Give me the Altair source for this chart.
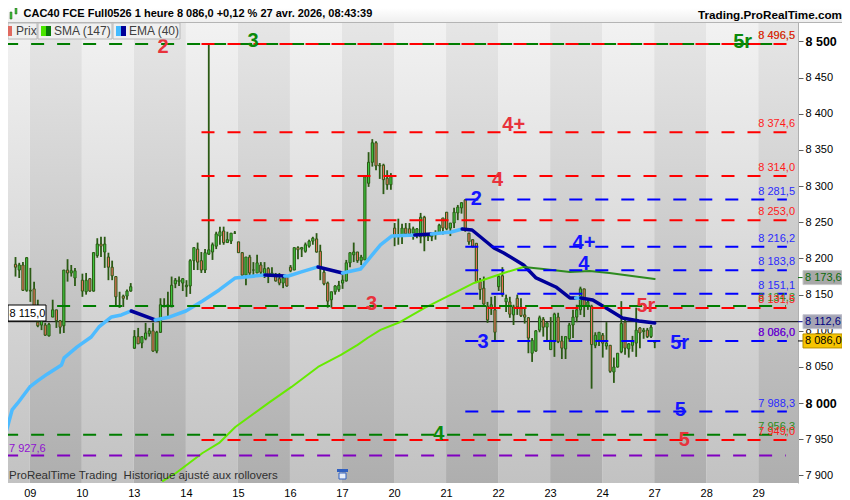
import altair as alt
import pandas as pd

FONT = "Liberation Sans"

# ---- time axis: trading-day number, tick labels
day_labels = ["09", "10", "13", "14", "15", "16", "17", "20", "21", "22", "23", "24", "27", "28", "29"]
band_edges = [-0.5, 0, 1, 2, 3, 4, 5, 6, 7, 8, 9, 10, 11, 12, 13, 14, 15]
price_ticks = [7900, 7950, 8000, 8050, 8100, 8150, 8200, 8250, 8300, 8350, 8400, 8450, 8500]

# ---- hourly candles
slot = [2, 3, 4, 5, 6, 7, 8, 9, 10, 11, 12, 13, 14, 15, 16, 17, 18, 20, 21, 22, 23, 24, 25, 26, 27, 28, 29, 30, 31, 32, 33,
        34, 35, 36, 37, 38, 39, 40, 41, 42, 43, 44, 45, 46, 47, 48, 49, 50, 51, 52, 53, 54, 55, 56, 57, 58, 59, 60, 61, 62, 63, 64, 65, 66, 67, 68,
        69, 70, 71, 72, 73, 74, 75, 76, 77, 78, 79, 80, 81, 82, 83, 84, 85, 86, 87, 88, 89, 90, 91, 92, 93, 94, 95, 96, 97, 98, 99, 100, 101, 102, 103,
        104, 105, 106, 107, 108, 109, 110, 111, 112, 113, 114, 115, 116, 117, 118, 119, 120, 121, 122, 123, 124, 125, 126, 127, 128, 129, 130, 131, 132, 133, 134, 135, 136, 137, 138, 139,
        140, 141, 142, 143, 144, 145, 146, 147, 148, 149, 150, 151, 152, 153, 154, 155, 156, 157, 158, 159, 160, 161, 162, 163, 164, 165, 166, 167, 168, 169, 170, 171, 172, 173, 174]
high = [8202, 8194, 8195, 8202, 8187, 8168, 8143, 8119, 8111, 8111, 8143, 8129, 8115, 8184, 8199, 8191, 8187, 8179, 8180, 8173, 8209, 8228, 8230, 8230, 8208, 8197, 8175, 8154, 8150, 8157, 8166,
        8101, 8104, 8092, 8111, 8104, 8111, 8100, 8145, 8145, 8154, 8175, 8173, 8175, 8173, 8170, 8199, 8215, 8222, 8209, 8213, 8496, 8222, 8237, 8244, 8244, 8237, 8235, 8238, 8223, 8209, 8202, 8205, 8195, 8205, 8195,
        8195, 8188, 8188, 8180, 8180, 8177, 8177, 8191, 8215, 8217, 8216, 8222, 8226, 8230, 8235, 8219, 8188, 8168, 8154, 8163, 8169, 8177, 8198, 8208, 8222, 8209, 8205, 8313, 8347, 8365, 8362, 8332, 8331, 8322, 8318,
        8249, 8255, 8248, 8249, 8249, 8244, 8242, 8263, 8259, 8235, 8235, 8239, 8248, 8256, 8264, 8249, 8270, 8274, 8278, 8282, 8235, 8226, 8221, 8173, 8175, 8140, 8147, 8148, 8177, 8188, 8150, 8147, 8136, 8150, 8145, 8133,
        8119, 8090, 8101, 8121, 8119, 8112, 8119, 8125, 8125, 8093, 8092, 8111, 8129, 8136, 8161, 8158, 8144, 8136, 8098, 8098, 8097, 8112, 8080, 8063, 8069, 8141, 8115, 8083, 8093, 8132, 8105, 8104, 8104, 8108, 8087]
low = [8175, 8173, 8155, 8154, 8140, 8119, 8105, 8101, 8093, 8092, 8119, 8104, 8096, 8097, 8168, 8175, 8162, 8147, 8150, 8154, 8154, 8201, 8202, 8187, 8170, 8170, 8133, 8132, 8133, 8143, 8154,
       8075, 8082, 8076, 8087, 8092, 8071, 8069, 8097, 8133, 8119, 8133, 8159, 8162, 8155, 8147, 8151, 8184, 8184, 8180, 8180, 8205, 8198, 8213, 8219, 8219, 8222, 8220, 8234, 8208, 8175, 8163, 8177, 8175, 8180, 8177,
       8173, 8166, 8175, 8168, 8163, 8159, 8161, 8181, 8184, 8199, 8202, 8208, 8215, 8219, 8208, 8170, 8163, 8132, 8132, 8150, 8154, 8158, 8168, 8188, 8195, 8194, 8191, 8198, 8299, 8327, 8322, 8310, 8289, 8295, 8295,
       8217, 8219, 8220, 8230, 8230, 8226, 8228, 8221, 8210, 8224, 8224, 8226, 8234, 8233, 8239, 8231, 8242, 8253, 8262, 8237, 8219, 8215, 8166, 8143, 8136, 8111, 8122, 8085, 8155, 8147, 8126, 8118, 8108, 8122, 8119, 8110,
       8069, 8057, 8071, 8098, 8092, 8086, 8074, 8064, 8083, 8061, 8061, 8085, 8090, 8112, 8122, 8119, 8129, 8020, 8076, 8079, 8063, 8074, 8042, 8028, 8049, 8069, 8067, 8063, 8071, 8064, 8076, 8089, 8090, 8090, 8076]
open_ = [8192, 8184, 8191, 8156, 8156, 8158, 8112, 8108, 8108, 8093, 8119, 8129, 8114, 8107, 8184, 8180, 8173, 8170, 8154, 8172, 8155, 8204, 8220, 8209, 8202, 8188, 8175, 8134, 8148, 8148, 8155,
         8076, 8092, 8083, 8089, 8096, 8100, 8072, 8098, 8133, 8133, 8133, 8165, 8168, 8166, 8161, 8162, 8197, 8213, 8197, 8184, 8206, 8209, 8217, 8231, 8238, 8222, 8224, 8235, 8223, 8208, 8177, 8202, 8184, 8180, 8191,
         8177, 8186, 8177, 8175, 8172, 8166, 8175, 8188, 8184, 8215, 8213, 8210, 8217, 8224, 8227, 8210, 8181, 8166, 8143, 8154, 8157, 8166, 8169, 8194, 8205, 8209, 8197, 8198, 8304, 8333, 8360, 8329, 8329, 8311, 8302,
         8242, 8230, 8232, 8242, 8241, 8235, 8234, 8230, 8257, 8230, 8230, 8233, 8235, 8256, 8264, 8242, 8249, 8263, 8270, 8281, 8235, 8226, 8221, 8168, 8159, 8134, 8132, 8129, 8161, 8176, 8140, 8140, 8122, 8145, 8133, 8122,
         8118, 8069, 8072, 8101, 8116, 8105, 8074, 8085, 8119, 8086, 8075, 8089, 8108, 8119, 8129, 8158, 8134, 8134, 8080, 8087, 8094, 8079, 8080, 8043, 8050, 8071, 8112, 8075, 8080, 8083, 8104, 8099, 8101, 8092, 8084]
close = [8188, 8191, 8156, 8201, 8155, 8121, 8107, 8115, 8094, 8109, 8129, 8114, 8105, 8184, 8180, 8183, 8183, 8155, 8170, 8155, 8208, 8220, 8217, 8220, 8188, 8176, 8147, 8133, 8145, 8155, 8161,
         8092, 8082, 8092, 8097, 8100, 8072, 8098, 8136, 8134, 8136, 8163, 8170, 8170, 8172, 8163, 8197, 8215, 8195, 8184, 8208, 8212, 8219, 8234, 8237, 8222, 8226, 8235, 8235, 8208, 8177, 8202, 8180, 8184, 8194, 8181,
         8186, 8177, 8180, 8169, 8166, 8173, 8162, 8183, 8215, 8212, 8215, 8219, 8224, 8228, 8209, 8188, 8165, 8141, 8154, 8162, 8163, 8170, 8194, 8208, 8209, 8197, 8202, 8313, 8333, 8360, 8328, 8328, 8309, 8302, 8313,
         8230, 8231, 8242, 8234, 8234, 8241, 8241, 8257, 8230, 8234, 8233, 8235, 8246, 8242, 8241, 8249, 8264, 8271, 8277, 8239, 8223, 8217, 8168, 8157, 8137, 8115, 8136, 8098, 8175, 8150, 8145, 8123, 8133, 8133, 8121, 8119,
         8090, 8087, 8100, 8118, 8105, 8111, 8087, 8123, 8085, 8076, 8092, 8108, 8119, 8129, 8158, 8134, 8140, 8081, 8094, 8098, 8083, 8083, 8044, 8050, 8069, 8110, 8076, 8082, 8085, 8101, 8097, 8101, 8092, 8105, 8086]

# ---- EMA (40), piece by piece: the falling stretches are navy
ema_t = [[-0.46, -0.34, -0.23, 0, 0.15, 0.34, 0.61, 0.66, 0.91, 1.18, 1.33, 1.57, 1.76, 1.95],
         [1.95, 2.41],
         [2.41, 2.69, 3.0, 3.32, 3.64, 3.95, 4.52],
         [4.52, 4.9],
         [4.9, 4.97, 5.22, 5.54],
         [5.54, 6.01],
         [6.01, 6.36, 6.58, 6.74, 6.96, 7.4],
         [7.4, 7.72],
         [7.72, 8.1, 8.31],
         [8.31, 8.5, 8.92, 9.11, 9.49, 9.73, 10.11, 10.38, 10.49],
         [10.49, 10.59],
         [10.59, 10.82, 11.14, 11.39, 11.71, 12.01]]
ema_v = [[7958.8, 7990.6, 8000.3, 8022.4, 8030.7, 8040.4, 8052.8, 8062.5, 8077.7, 8091.5, 8105.3, 8119.2, 8121.9, 8127.4],
         [8127.4, 8115.0],
         [8115.0, 8119.2, 8127.4, 8141.3, 8156.5, 8173.1, 8177.2],
         [8177.2, 8175.8],
         [8175.8, 8175.8, 8181.4, 8188.3],
         [8188.3, 8180.0],
         [8180.0, 8185.5, 8204.9, 8218.7, 8231.1, 8232.5],
         [8232.5, 8233.9],
         [8233.9, 8236.7, 8240.8],
         [8240.8, 8239.4, 8214.5, 8207.6, 8191.0, 8173.1, 8160.6, 8145.4, 8145.4],
         [8145.4, 8145.4],
         [8145.4, 8142.7, 8128.8, 8117.8, 8113.6, 8110.9]]
ema_c = ["#4dbbff", "#000099", "#4dbbff", "#000099", "#4dbbff", "#000099",
         "#4dbbff", "#000099", "#4dbbff", "#000099", "#4dbbff", "#000099"]

# ---- SMA (147): bright while rising, dark once falling
sma_t = [[2.56, 2.81, 3.32, 3.64, 3.95, 4.59, 5.03, 5.54, 5.98, 6.3, 6.49, 6.74, 7.12, 7.59, 7.97, 8.54, 9.11, 9.49],
         [9.49, 9.87, 10.38, 10.76, 11.14, 12.01]]
sma_v = [[7892.4, 7903.4, 7931.1, 7945.0, 7967.1, 8000.3, 8022.4, 8050.0, 8066.6, 8080.5, 8090.1, 8101.2, 8112.2, 8131.6, 8145.4, 8166.2, 8180.0, 8188.3],
         [8188.3, 8185.5, 8181.4, 8182.8, 8180.0, 8171.7]]
sma_c = ["#66ea00", "#2e8b20"]

# ---- horizontal levels
green_levels = [8496.5, 8134.3, 7956.3]
green_labels = ["8 496,5", "8 134,3", "7 956,3"]
red_levels = [8496.5, 8374.6, 8314.0, 8253.0, 8131.5, 7949.0]
red_labels = ["8 496,5", "8 374,6", "8 314,0", "8 253,0", "8 131,5", "7 949,0"]
blue_levels = [8281.5, 8216.2, 8183.8, 8151.1, 8086.0, 7988.3]
blue_labels = ["8 281,5", "8 216,2", "8 183,8", "8 151,1", "8 086,0", "7 988,3"]
purple_level = [7927.6]
last_line = [8112.6]

# ---- wave labels
wave_text = ["2", "3", "5r", "4+", "4", "2", "4+", "4", "3", "5r", "3", "5r", "5", "4", "5"]
wave_t = [2.56, 4.29, 13.70, 9.30, 8.99, 8.58, 10.65, 10.65, 6.57, 11.84, 8.71, 12.49, 12.50, 7.86, 12.58]
wave_p = [8492.4, 8500.7, 8499.3, 8384.6, 8308.5, 8282.2, 8221.4, 8192.4, 8137.1, 8134.3, 8084.5, 8083.2, 7990.5, 7957.3, 7949.0]
wave_c = ["#e8323c", "#0a8a0a", "#0a8a0a", "#e8323c", "#e8323c", "#1414ff", "#1414ff", "#1414ff",
          "#e8323c", "#e8323c", "#1414ff", "#1414ff", "#1414ff", "#0a8a0a", "#e8323c"]

# ---- tags on the price axis
tag_p = [8173.6, 8112.6, 8086.0]
tag_txt = ["8 173,6", "8 112,6", "8 086,0"]
tag_fill = ["#a8a8a8", "#a4a4b4", "#f6c400"]
tag_stroke = ["#c8c8c8", "#c4c4d0", "#b89000"]
tag_ink = ["#0a6a0a", "#000080", "#000000"]

xs = alt.Scale(domain=[-0.3226, 14.668], nice=False, zero=False)
ys = alt.Scale(domain=[7889.6, 8546.3], nice=False, zero=False)

x_axis = alt.Axis(values=list(range(len(day_labels))), title=None, ticks=False, domain=False, grid=False,
                  labelExpr="[" + ",".join("'%s'" % d for d in day_labels) + "][datum.value]",
                  labelFont=FONT, labelFontSize=11, labelColor="#000000", labelPadding=4, labelFlush=False)
y_axis = alt.Axis(orient="right", values=price_ticks, title=None, grid=False, tickSize=5, tickColor="#606060",
                  domainColor="#b0b0b0", labelFont=FONT, labelColor="#000000", labelPadding=2,
                  labelExpr="replace(format(datum.value,','),',',' ')",
                  labelFontSize={"condition": {"test": "datum.value % 500 == 0", "value": 12.5}, "value": 11},
                  labelFontWeight={"condition": {"test": "datum.value % 500 == 0", "value": "bold"}, "value": "normal"})
X = lambda f: alt.X(f, type="quantitative", scale=xs, axis=x_axis)
Y = lambda f: alt.Y(f, type="quantitative", scale=ys, axis=y_axis)
one = pd.DataFrame({"a": [0]})


def grad(top, bottom):
    return alt.LinearGradient(gradient="linear", x1=0, x2=0, y1=0, y2=1,
                              stops=[alt.GradientStop(color=top, offset=0), alt.GradientStop(color=bottom, offset=1)])


def box(x0, x1, y0, y1, **kw):
    return alt.Chart(one).mark_rect(**kw).encode(x=alt.value(x0), x2=alt.value(x1), y=alt.value(y0), y2=alt.value(y1))


def label(txt, x, y, size=11, color="#000000", weight="normal", align="left"):
    return alt.Chart(one).mark_text(text=txt, font=FONT, fontSize=size, color=color, fontWeight=weight,
                                    align=align, baseline="middle").encode(x=alt.value(x), y=alt.value(y))


# background day bands
bands = pd.DataFrame({"a": band_edges[:-1], "b": band_edges[1:], "top": 8527.0, "bot": 7889.6})
light = bands.iloc[::2]
dark = bands.iloc[1::2]
light_l = alt.Chart(light).mark_rect(color=grad("#f2f2f2", "#c2c2c2"), clip=True).encode(
    x=X("a"), x2="b:Q", y=Y("top"), y2="bot:Q")
dark_l = alt.Chart(dark).mark_rect(color=grad("#e6e6e6", "#aeaeae"), clip=True).encode(
    x=X("a"), x2="b:Q", y=Y("top"), y2="bot:Q")

# candles
candles = pd.DataFrame({"t": [(s - 5.84) / 14 for s in slot], "high": high, "low": low, "open": open_, "close": close})
candles["fill"] = ["#3ec43e" if c >= o else "#e8705a" for o, c in zip(open_, close)]
wick = alt.Chart(candles).mark_rule(color="#2b5a14", strokeWidth=1.8, clip=True).encode(x=X("t"), y=Y("low"), y2="high:Q")
body = alt.Chart(candles).mark_bar(size=2.2, stroke="#2b5a14", strokeWidth=1, clip=True, orient="vertical").encode(
    x=X("t"), y=Y("open"), y2="close:Q", fill=alt.Fill("fill:N", scale=None))


def pieces(ts, vs, cs):
    rows = []
    for i, (tt, vv, c) in enumerate(zip(ts, vs, cs)):
        rows += [{"t": a, "v": b, "seg": i, "c": c} for a, b in zip(tt, vv)]
    return pd.DataFrame(rows)


def curve(df, w):
    return alt.Chart(df).mark_line(strokeWidth=w, clip=True, strokeJoin="round", strokeCap="round").encode(
        x=X("t"), y=Y("v"), detail="seg:N", color=alt.Color("c:N", scale=None), order="t:Q")


ema_l = curve(pieces(ema_t, ema_v, ema_c), 3.5)
sma_l = curve(pieces(sma_t, sma_v, sma_c), 2)

black = alt.Chart(pd.DataFrame({"p": last_line})).mark_rule(color="#000000", strokeWidth=1, clip=True).encode(
    y=Y("p"), x=alt.value(0), x2=alt.value(790))


def levels(ps, start, end, color):
    df = pd.DataFrame({"p": ps, "a": start, "b": end})
    return alt.Chart(df).mark_rule(color=color, strokeWidth=2, strokeDash=[13, 13], clip=True).encode(
        x=X("a"), x2="b:Q", y=Y("p"))


def level_text(ps, txt, color):
    df = pd.DataFrame({"p": ps, "s": txt})
    return alt.Chart(df).mark_text(font=FONT, fontSize=11, color=color, align="right", baseline="middle", dy=-8).encode(
        x=alt.value(787), y=Y("p"), text="s:N")


lv_green = levels(green_levels, -0.474, 14.53, "#007d00")
lv_red = levels(red_levels, 3.30, 14.67, "#ff0000")
lv_blue = levels(blue_levels, 8.37, 14.55, "#0000ff")
lv_purple = levels(purple_level, -0.474, 14.53, "#8000c0")

waves = alt.Chart(pd.DataFrame({"t": wave_t, "p": wave_p, "s": wave_text, "c": wave_c})).mark_text(
    font=FONT, fontSize=20, fontWeight="bold", align="center", baseline="middle").encode(
    x=X("t"), y=Y("p"), text="s:N", color=alt.Color("c:N", scale=None))

# axis tags
tags = pd.DataFrame({"p": tag_p, "s": tag_txt, "f": tag_fill, "st": tag_stroke, "ink": tag_ink})
tag_rect = alt.Chart(tags).mark_rect(height=14, strokeWidth=1).encode(
    x=alt.value(795), x2=alt.value(834), y=Y("p"),
    fill=alt.Fill("f:N", scale=None), stroke=alt.Stroke("st:N", scale=None))
tag_tick = alt.Chart(tags).mark_rule(strokeWidth=1).encode(
    x=alt.value(790), x2=alt.value(795), y=Y("p"), color=alt.Color("ink:N", scale=None))
tag_text = alt.Chart(tags).mark_text(font=FONT, fontSize=11, align="left", baseline="middle").encode(
    x=alt.value(797), y=Y("p"), text="s:N", color=alt.Color("ink:N", scale=None))

# chrome
chrome = [
    box(0, 834, 0, 14, color=grad("#ffffff", "#efefef")),
    box(0, 834, 14, 15, color="#b4b4b4"),
    box(2, 4, 4, 11, color="#3ec43e", stroke="#2b5a14", strokeWidth=0.5),
    box(7, 9, 0, 6, color="#3ec43e", stroke="#2b5a14", strokeWidth=0.5),
    label("CAC40 FCE Full0526 1 heure 8 086,0 +0,12 % 27 avr. 2026, 08:43:39", 15.5, 6, size=11, weight="bold"),
    label("Trading.ProRealTime.com", 834, 6.5, size=11.7, weight="bold", align="right"),
    box(0, 29, 15, 31, color="#f0f0f0", stroke="#b8b8b8", strokeWidth=1),
    box(30, 104, 15, 31, color="#f0f0f0", stroke="#b8b8b8", strokeWidth=1),
    box(105, 172, 15, 31, color="#f0f0f0", stroke="#b8b8b8", strokeWidth=1),
    box(0, 4, 18, 28, color="#e06a60"),
    label("Prix", 8, 23, size=12, color="#404040"),
    box(33, 38, 18, 28, color="#4ae600"),
    box(38, 43, 18, 28, color="#0a7a0a"),
    label("SMA (147)", 46, 23, size=12, color="#404040"),
    box(108, 113, 18, 28, color="#44bbff"),
    box(113, 118, 18, 28, color="#000099"),
    label("EMA (40)", 121, 23, size=12, color="#404040"),
]
foot = [
    label("ProRealTime Trading\u00a0 Historique ajusté aux rollovers", 1, 468, size=11.5, color="#303030"),
    box(329, 340, 461, 464, color="#3060c0"),
    box(331, 338, 465, 471, color="#e8eef8", stroke="#3060c0", strokeWidth=1),
    box(0, 38, 297, 313, color="#ffffff", stroke="#000000", strokeWidth=1),
    label("8 115,0", 1.5, 305.5),
    label("7 927,6", 1, 441, color="#9010d0"),
]

layers = [light_l, dark_l, black, wick, body, ema_l, sma_l, lv_green, lv_red, lv_blue, lv_purple,
          level_text(green_levels, green_labels, "#2e8b20"),
          level_text(red_levels, red_labels, "#ff1a1a"),
          level_text(blue_levels, blue_labels, "#2a2aff"),
          level_text([8086.0], ["8 086,0"], "#8000c0"),
          waves, tag_tick, tag_rect, tag_text] + chrome + foot

chart = alt.layer(*layers).properties(
    width=790, height=475,
    autosize=alt.AutoSizeParams(type="none"),
    padding={"left": 0, "top": 0, "right": 44, "bottom": 17},
).configure_view(stroke=None)

chart.save("out.html", embed_options={"renderer": "svg", "actions": False})
